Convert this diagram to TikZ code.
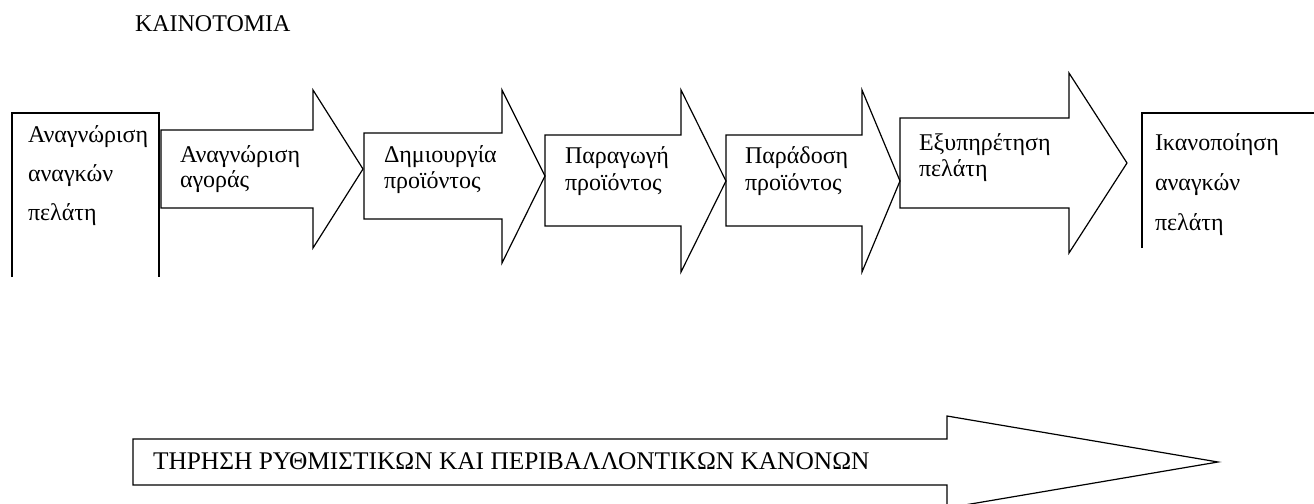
\documentclass[tikz,border=0pt]{standalone}
\usepackage{fontspec}
\setmainfont{Liberation Serif}
\usepackage{tikz}

\tikzset{
  blockline/.style={draw=black,line join=miter,line cap=butt,line width=0.6pt},
  txt/.style={anchor=base west,font=\fontsize{12}{14}\selectfont}
}

\begin{document}
\begin{tikzpicture}[y=0.5pt, x=0.5pt, yscale=-1, inner sep=0pt, outer sep=0pt]
  \clip (0,0) rectangle (1314,504);
  \path (135,31) node[txt] (text01) {ΚΑΙΝΟΤΟΜΙΑ};

  % first box, open at the bottom
  \path[blockline] (12,277) -- (12,113) -- (159,113) -- (159,277);
  \path (28,142) node[txt] (text11) {Αναγνώριση};
  \path (28,181) node[txt] (text12) {αναγκών};
  \path (28,220) node[txt] (text13) {πελάτη};

  % arrows of the chain
  \path[blockline] (161,130) -- (313,130) -- (313,90) -- (363,169) --
    (313,248) -- (313,208) -- (161,208) -- cycle;
  \path (180,162) node[txt] (text21) {Αναγνώριση};
  \path (180,187) node[txt] (text22) {αγοράς};

  \path[blockline] (364,133) -- (502,133) -- (502,90) -- (545,176) --
    (502,263) -- (502,219) -- (364,219) -- cycle;
  \path (384,162) node[txt] (text31) {Δημιουργία};
  \path (384,188) node[txt] (text32) {προϊόντος};

  \path[blockline] (545,135) -- (681,135) -- (681,90) -- (726,181) --
    (681,272) -- (681,226) -- (545,226) -- cycle;
  \path (565,163) node[txt] (text41) {Παραγωγή};
  \path (565,190) node[txt] (text42) {προϊόντος};

  \path[blockline] (726,135) -- (862,135) -- (862,90) -- (900,181) --
    (862,272) -- (862,226) -- (726,226) -- cycle;
  \path (745,163) node[txt] (text51) {Παράδοση};
  \path (745,190) node[txt] (text52) {προϊόντος};

  \path[blockline] (900,118) -- (1069,118) -- (1069,73) -- (1127,163) --
    (1069,253) -- (1069,208) -- (900,208) -- cycle;
  \path (919,150) node[txt] (text61) {Εξυπηρέτηση};
  \path (919,176) node[txt] (text62) {πελάτη};

  % last box, open at the bottom and the right
  \path[blockline] (1142,248) -- (1142,113) -- (1320,113);
  \path (1155,150) node[txt] (text71) {Ικανοποίηση};
  \path (1155,190) node[txt] (text72) {αναγκών};
  \path (1155,230) node[txt] (text73) {πελάτη};

  % long arrow
  \path[blockline] (133,439) -- (947,439) -- (947,416) -- (1218,462) --
    (947,508) -- (947,485) -- (133,485) -- cycle;
  \path (153,469) node[txt,font=\fontsize{12.7}{14}\selectfont] (text81)
    {ΤΗΡΗΣΗ ΡΥΘΜΙΣΤΙΚΩΝ ΚΑΙ ΠΕΡΙΒΑΛΛΟΝΤΙΚΩΝ ΚΑΝΟΝΩΝ};

\end{tikzpicture}
\end{document}
